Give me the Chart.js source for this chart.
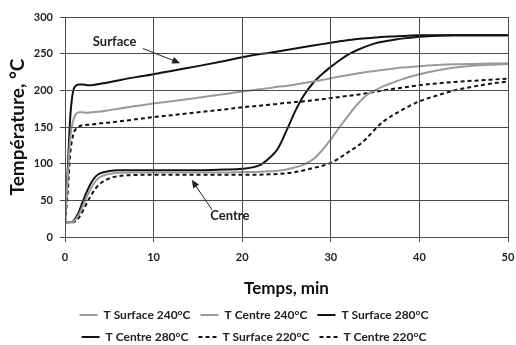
<!DOCTYPE html>
<html>
<head>
<meta charset="utf-8">
<script src="https://cdn.jsdelivr.net/npm/chart.js@4.4.0/dist/chart.umd.min.js"></script>
<style>
  html, body { margin: 0; padding: 0; background: #fff; }
  #wrap { width: 516px; height: 345px; }
</style>
</head>
<body>
<div id="wrap"><canvas id="c" width="516" height="345"></canvas></div>
<script>
// time grid (min), shared by all six curves
var timeMin = [0, 0.3, 0.6, 0.9, 1.2, 1.6, 2, 2.5, 3, 3.5,
  4, 5, 6, 8, 10, 12, 15, 18, 20, 22,
  23, 24, 25, 26, 27, 28, 29, 30, 31, 32,
  33, 34, 35, 36, 37, 38, 40, 42, 44, 46,
  48, 50];

var surface240 = [20, 80, 135, 158, 167, 170, 170, 169.5, 170, 170.5,
  171, 173, 175, 178.5, 182, 185, 190, 195, 198.5, 201.5,
  203, 205, 206, 208, 210, 212, 214, 216.5, 219, 221,
  223, 225, 226.5, 228, 229.5, 231, 233, 234.5, 235.5, 236,
  236.5, 237];
var centre240 = [20, 20, 20, 20.5, 24, 31, 42, 56, 68, 77,
  82, 86, 87.5, 88, 88, 88, 88, 88, 88.5, 89,
  89.5, 90.5, 92, 95, 99, 106, 118, 133, 150, 166,
  181, 193, 200, 206, 210.5, 215, 222, 227, 231, 233.5,
  235, 236];
var surface280 = [20, 90, 165, 198, 206, 208, 208, 207, 207, 208,
  209, 211, 213.5, 218, 222, 226.5, 233, 240, 245, 249.5,
  251, 253, 255, 257, 259, 261, 263, 265, 267, 268.5,
  270, 271, 272, 273, 273.5, 274, 275, 275, 275, 275,
  275, 275];
var centre280 = [20, 20, 20, 21, 26, 35, 48, 63, 75, 83,
  87, 90, 91, 91, 91, 91, 91, 92, 93, 98,
  107, 120, 145, 172, 194, 210, 222, 232, 241, 249,
  255, 260, 264, 266.5, 268.5, 270.5, 273, 274.5, 275, 275,
  275, 275];
var surface220 = [20, 60, 115, 138, 147, 151, 152.5, 153, 153.5, 154,
  155, 156, 157.5, 160.5, 163.5, 166, 170, 174, 177, 179,
  180.5, 181.5, 183, 184, 185, 186.5, 188, 189.5, 191, 192.5,
  194, 196, 198, 200, 202, 203.5, 207, 209.5, 211.5, 213,
  214.5, 216];
var centre220 = [20, 20, 20, 20, 22, 27, 35, 47, 58, 67,
  73, 80, 83, 84.5, 85, 85, 85, 85, 85, 85,
  85.5, 86, 87, 88.5, 91, 94, 97, 101, 108, 116,
  124, 134, 147, 158, 166, 173, 185, 193, 200, 205,
  209, 212];

var seriesNames = ['T Surface 240°C', 'T Centre 240°C', 'T Surface 280°C',
  'T Centre 280°C', 'T Surface 220°C', 'T Centre 220°C'];

var xTicks = [0, 10, 20, 30, 40, 50];
var yTicks = [0, 50, 100, 150, 200, 250, 300];

var GRAY = '#9a9a9a';
var BLACK = '#111111';
var GRID = '#4a4a4a';
var FONT = 'Lato, "Open Sans", sans-serif';

function pts(vals) {
  return timeMin.map(function (t, i) { return { x: t, y: vals[i] }; });
}

function line(label, vals, color, dash) {
  return {
    label: label,
    data: pts(vals),
    borderColor: color,
    backgroundColor: color,
    borderWidth: 2,
    borderDash: dash || [],
    pointRadius: 0,
    fill: false,
    cubicInterpolationMode: 'monotone'
  };
}

// text + arrow call-outs, in data units
var notes = [
  { text: 'Surface', at: [5.6, 265.5], from: [8.8, 257], to: [13, 237] },
  { text: 'Centre', at: [18.6, 29], from: [16.6, 37], to: [14.3, 78] }
];

function drawGrid(chart) {
  var ctx = chart.ctx, a = chart.chartArea;
  var al = function (p) { return Math.round(p - 0.5) + 0.5; };
  ctx.save();
  ctx.globalAlpha = 1;
  ctx.globalCompositeOperation = 'source-over';
  ctx.setLineDash([]);
  ctx.strokeStyle = GRID;
  ctx.lineWidth = 1;
  xTicks.forEach(function (v) {
    var p = al(chart.scales.x.getPixelForValue(v));
    ctx.beginPath();
    ctx.moveTo(p, a.top);
    ctx.lineTo(p, a.bottom + 5);
    ctx.stroke();
  });
  yTicks.forEach(function (v) {
    var p = al(chart.scales.y.getPixelForValue(v));
    ctx.beginPath();
    ctx.moveTo(a.left - 5, p);
    ctx.lineTo(a.right, p);
    ctx.stroke();
  });
  ctx.restore();
}

// grid lines + tick marks at the tick values, placed by the chart's scales
var gridLines = {
  id: 'gridLines',
  beforeDatasetsDraw: function (chart) { drawGrid(chart); },
  afterDatasetsDraw: function (chart) { drawGrid(chart); }
};

var callouts = {
  id: 'callouts',
  afterDatasetsDraw: function (chart) {
    var ctx = chart.ctx, xs = chart.scales.x, ys = chart.scales.y;
    ctx.save();
    ctx.fillStyle = '#222';
    ctx.strokeStyle = '#222';
    ctx.font = 'bold 13px ' + FONT;
    ctx.textAlign = 'center';
    ctx.textBaseline = 'middle';
    notes.forEach(function (n) {
      ctx.fillText(n.text, xs.getPixelForValue(n.at[0]), ys.getPixelForValue(n.at[1]));
      var x1 = xs.getPixelForValue(n.from[0]), y1 = ys.getPixelForValue(n.from[1]);
      var x2 = xs.getPixelForValue(n.to[0]), y2 = ys.getPixelForValue(n.to[1]);
      var a = Math.atan2(y2 - y1, x2 - x1);
      ctx.lineWidth = 1;
      ctx.beginPath();
      ctx.moveTo(x1, y1);
      ctx.lineTo(x2 - 5 * Math.cos(a), y2 - 5 * Math.sin(a));
      ctx.stroke();
      ctx.beginPath();
      ctx.moveTo(x2, y2);
      ctx.lineTo(x2 - 8 * Math.cos(a) + 3.5 * Math.sin(a), y2 - 8 * Math.sin(a) - 3.5 * Math.cos(a));
      ctx.lineTo(x2 - 8 * Math.cos(a) - 3.5 * Math.sin(a), y2 - 8 * Math.sin(a) + 3.5 * Math.cos(a));
      ctx.closePath();
      ctx.fill();
    });
    ctx.restore();
  }
};

// keep the legend at three items per row, like the original
var legendRows = {
  id: 'legendRows',
  beforeLayout: function (chart) {
    var lg = chart.legend;
    if (!lg || lg._rowsPatched) return;
    var baseFit = lg.fit;
    lg.fit = function () {
      var full = this.maxWidth;
      this.maxWidth = 400;
      baseFit.call(this);
      this.maxWidth = full;
      this.width = full;
      this.height -= 8;
    };
    lg._rowsPatched = true;
  }
};

var baseLabels = Chart.defaults.plugins.legend.labels.generateLabels;

new Chart(document.getElementById('c').getContext('2d'), {
  type: 'line',
  data: {
    datasets: [
      line(seriesNames[0], surface240, GRAY),
      line(seriesNames[1], centre240, GRAY),
      line(seriesNames[2], surface280, BLACK),
      line(seriesNames[3], centre280, BLACK),
      line(seriesNames[4], surface220, BLACK, [4, 3]),
      line(seriesNames[5], centre220, BLACK, [4, 3])
    ]
  },
  options: {
    responsive: false,
    animation: false,
    layout: { padding: { top: 17, right: 8, left: 0, bottom: 0 } },
    plugins: {
      tooltip: { enabled: false },
      legend: {
        position: 'bottom',
        labels: {
          usePointStyle: true,
          pointStyle: 'line',
          pointStyleWidth: 18,
          padding: 10,
          color: '#222',
          font: { family: FONT, size: 12, weight: 'bold' },
          generateLabels: function (chart) {
            return baseLabels(chart).map(function (item) {
              var ds = chart.data.datasets[item.datasetIndex];
              item.lineDash = ds.borderDash;
              item.strokeStyle = ds.borderColor;
              item.lineWidth = 2;
              return item;
            });
          }
        }
      }
    },
    scales: {
      x: {
        type: 'linear',
        min: xTicks[0],
        max: xTicks[xTicks.length - 1],
        afterFit: function (s) { s.height = 62; s.paddingRight = 0; s.paddingLeft = 0; },
        ticks: {
          stepSize: xTicks[1] - xTicks[0],
          color: '#222', padding: 9,
          font: { family: FONT, size: 11, weight: 'bold' }
        },
        grid: { color: 'rgba(0,0,0,0)', tickLength: 5 },
        border: { display: false },
        title: {
          display: true,
          text: 'Temps, min',
          color: '#111',
          padding: { top: 2, bottom: 0 },
          font: { family: FONT, size: 17, weight: 'bold' }
        }
      },
      y: {
        min: yTicks[0],
        max: yTicks[yTicks.length - 1],
        afterFit: function (s) { s.width = 65; },
        ticks: {
          stepSize: yTicks[1] - yTicks[0],
          color: '#222', padding: 7,
          font: { family: FONT, size: 11, weight: 'bold' }
        },
        grid: { color: 'rgba(0,0,0,0)', tickLength: 5 },
        border: { display: false },
        title: {
          display: true,
          text: 'Température, °C',
          color: '#111',
          padding: { top: 6, bottom: 0 },
          font: { family: FONT, size: 19, weight: 'bold' }
        }
      }
    }
  },
  plugins: [legendRows, gridLines, callouts]
});
</script>
</body>
</html>
